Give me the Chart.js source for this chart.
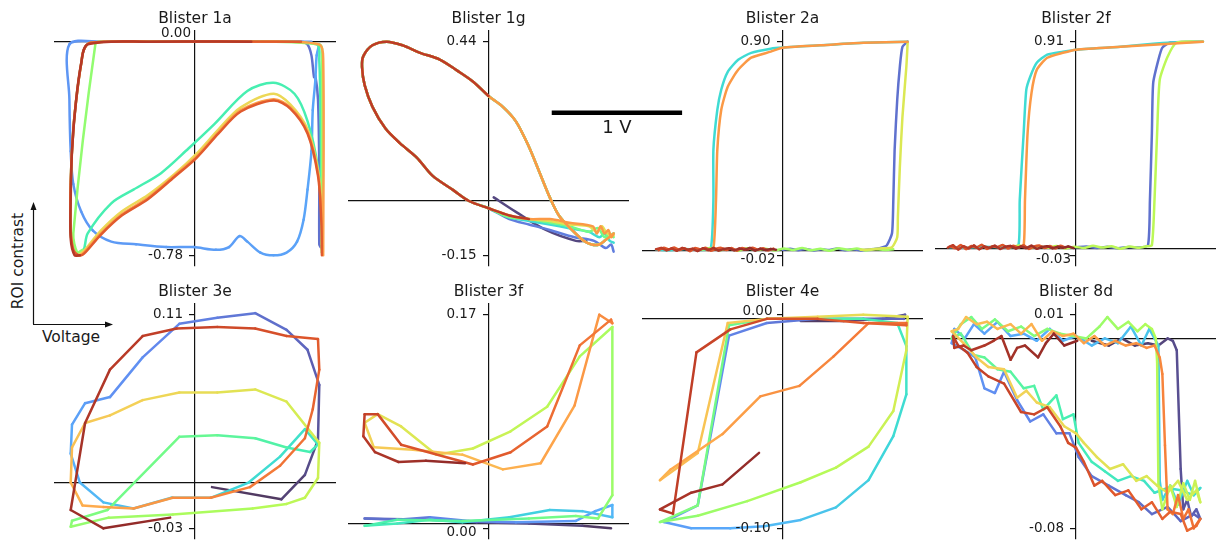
<!DOCTYPE html>
<html>
<head>
<meta charset="utf-8">
<script src="https://cdn.jsdelivr.net/npm/chart.js@4.4.1/dist/chart.umd.min.js"></script>
<style>
  html, body { margin: 0; padding: 0; background: #fff; }
  #stage { position: relative; width: 1216px; height: 545px; overflow: hidden; }
  #stage canvas, #stage svg { position: absolute; left: 0; top: 0; }
</style>
</head>
<body>
<div id="stage">
  <svg width="1216" height="545">
    <line x1="33.5" y1="324" x2="33.5" y2="208" stroke="#111" stroke-width="1.2"/>
    <polygon points="33.5,202 30.5,210 36.5,210" fill="#111"/>
    <line x1="33" y1="324.5" x2="107" y2="324.5" stroke="#111" stroke-width="1.2"/>
    <polygon points="113,324.5 105,321.5 105,327.5" fill="#111"/>
    <text x="18" y="261" transform="rotate(-90 18 261)" text-anchor="middle" dominant-baseline="central"
          font-family="DejaVu Sans" font-size="15.5" fill="#1a1a1a">ROI contrast</text>
    <text x="71" y="337" text-anchor="middle" dominant-baseline="central"
          font-family="DejaVu Sans" font-size="15.5" fill="#1a1a1a">Voltage</text>
  </svg>
</div>
<script>
/* ================= DATA ================= */
const titles = ['Blister 1a', 'Blister 1g', 'Blister 2a', 'Blister 2f',
                'Blister 3e', 'Blister 3f', 'Blister 4e', 'Blister 8d'];

// y tick positions (data min / max) and their printed text
const yTicks = [[-0.78, 0.00], [-0.15, 0.44], [-0.02, 0.90], [-0.03, 0.91],
                [-0.03, 0.11], [-0.004, 0.17], [-0.10, 0.002], [-0.08, 0.01]];
const yTickText = [['-0.78', '0.00'], ['-0.15', '0.44'], ['-0.02', '0.90'], ['-0.03', '0.91'],
                   ['-0.03', '0.11'], ['0.00', '0.17'], ['-0.10', '0.00'], ['-0.08', '0.01']];

const voltLimit = 1.07;                  // V, same sweep window for every blister
const scaleBar = [[0.485, 0.244], [1.485, 0.244]];   // 1 V bar, drawn in 1g coordinates

/* ---- Blister 1a : one trace per cycle ---- */
const loops1a = [
  [[0.12,0],[0.81,0],[0.86,-0.01],[0.89,-0.05],[0.91,-0.13],[0.92,-0.125],[0.94,-0.21],[0.95,-0.47],[0.95,-0.74],[0.96,-0.75]],
  [[0.89,0],[0.05,0],[-0.72,0],[-0.96,-0.01],[-0.96,-0.21],[-0.95,-0.40],[-0.93,-0.52],[-0.87,-0.62],[-0.78,-0.69],[-0.64,-0.73],[-0.45,-0.74],[-0.22,-0.75],[-0.01,-0.75],[0.16,-0.76],[0.26,-0.75],[0.34,-0.71],[0.40,-0.73],[0.50,-0.77],[0.60,-0.78],[0.70,-0.77],[0.78,-0.73],[0.83,-0.65],[0.86,-0.54],[0.89,-0.40],[0.90,-0.25],[0.92,-0.14],[0.93,-0.05],[0.95,-0.01]],
  [[0.97,-0.77],[0.96,-0.29],[0.95,-0.07],[0.93,-0.01],[0.43,0],[-0.34,0],[-0.80,-0.004],[-0.85,-0.03],[-0.87,-0.08],[-0.90,-0.18],[-0.93,-0.32],[-0.95,-0.51],[-0.95,-0.69],[-0.93,-0.76],[-0.89,-0.78],[-0.85,-0.76],[-0.82,-0.70],[-0.64,-0.59],[-0.47,-0.54],[-0.26,-0.48],[-0.05,-0.39],[0.15,-0.30],[0.40,-0.18],[0.60,-0.15],[0.76,-0.19],[0.86,-0.29],[0.94,-0.46],[0.97,-0.63],[0.97,-0.77]],
  [[0.97,-0.76],[0.97,-0.07],[0.95,-0.01],[0.05,0],[-0.72,0],[-0.76,-0.004],[-0.93,-0.70],[-0.90,-0.77],[-0.86,-0.76]],
  [[-0.89,-0.78],[-0.85,-0.765],[-0.72,-0.69],[-0.56,-0.62],[-0.36,-0.56],[-0.16,-0.485],[0.01,-0.41],[0.18,-0.32],[0.35,-0.24],[0.60,-0.19],[0.73,-0.23],[0.86,-0.32],[0.94,-0.47],[0.97,-0.63],[0.97,-0.77]],
  [[0.98,-0.77],[0.98,-0.07],[0.95,-0.01],[0.43,0],[-0.34,0],[-0.80,-0.004],[-0.85,-0.03],[-0.87,-0.08],[-0.90,-0.18],[-0.93,-0.32],[-0.95,-0.51],[-0.95,-0.69],[-0.93,-0.76],[-0.89,-0.78],[-0.85,-0.77],[-0.72,-0.70],[-0.56,-0.63],[-0.36,-0.57],[-0.16,-0.49],[0.01,-0.42],[0.18,-0.33],[0.35,-0.25],[0.60,-0.21],[0.73,-0.24],[0.86,-0.33],[0.94,-0.48],[0.97,-0.64],[0.98,-0.78]],
  [[0.81,0],[-0.34,0],[-0.80,-0.004],[-0.85,-0.03],[-0.87,-0.08],[-0.90,-0.18],[-0.93,-0.32],[-0.95,-0.51],[-0.95,-0.69],[-0.93,-0.76],[-0.89,-0.78],[-0.85,-0.775],[-0.72,-0.705],[-0.56,-0.635],[-0.36,-0.575],[-0.16,-0.495],[0.01,-0.425],[0.18,-0.335],[0.35,-0.255],[0.60,-0.215],[0.73,-0.245],[0.86,-0.335],[0.94,-0.49],[0.965,-0.65],[0.97,-0.78]],
  [[0.43,0],[-0.34,0],[-0.82,-0.01],[-0.87,-0.08],[-0.91,-0.22],[-0.94,-0.40],[-0.95,-0.58],[-0.95,-0.72],[-0.92,-0.78],[-0.88,-0.78]]
];
const tones1a = [[0.10,0.10],[0.16,0.20],[0.36,0.36],[0.46,0.46],[0.62,0.62],[0.73,0.73],[0.85,0.85],[0.94,0.94]];

/* ---- Blister 1g : common loop, cycles differ in the tail ---- */
const loop1g = [[0.96,-0.09],[0.89,-0.11],[0.85,-0.12],[0.79,-0.12],[0.73,-0.11],[0.64,-0.08],[0.54,-0.04],[0.47,0.01],[0.39,0.08],[0.31,0.15],[0.21,0.22],[0.11,0.26],[0,0.29],[-0.12,0.33],[-0.24,0.36],[-0.37,0.39],[-0.53,0.41],[-0.66,0.43],[-0.78,0.44],[-0.89,0.43],[-0.96,0.40],[-0.97,0.37],[-0.95,0.32],[-0.89,0.26],[-0.79,0.20],[-0.68,0.16],[-0.55,0.12],[-0.43,0.07],[-0.27,0.03],[-0.15,0.00],[0,-0.02]];
const start1g = [[0.04,0.01],[0.21,-0.03],[0.44,-0.08],[0.67,-0.11],[0.75,-0.11]];
const tails1g = [
  [[0.16,-0.05],[0.31,-0.065],[0.47,-0.08],[0.66,-0.10],[0.81,-0.11],[0.90,-0.13],[0.94,-0.12],[0.96,-0.14]],
  [[0.16,-0.045],[0.31,-0.055],[0.47,-0.065],[0.62,-0.075],[0.77,-0.085],[0.85,-0.10],[0.89,-0.09],[0.93,-0.11],[0.96,-0.115]],
  [[0.16,-0.045],[0.31,-0.05],[0.47,-0.06],[0.62,-0.07],[0.77,-0.085],[0.84,-0.075],[0.89,-0.10],[0.93,-0.09],[0.96,-0.10]],
  [[0.16,-0.04],[0.31,-0.05],[0.47,-0.055],[0.62,-0.065],[0.77,-0.07],[0.83,-0.085],[0.87,-0.07],[0.91,-0.09],[0.96,-0.095]],
  [[0.16,-0.04],[0.31,-0.05],[0.47,-0.05],[0.62,-0.06],[0.80,-0.07],[0.83,-0.09],[0.86,-0.07],[0.89,-0.09],[0.92,-0.08],[0.94,-0.10],[0.96,-0.09]]
];
const end1g = [[0.16,-0.04],[0.31,-0.05]];
const tones1g = [[0.03,0.03],[0.12,0.12],[0.30,0.30],[0.42,0.42],[0.60,0.60],[0.74,0.74],[0.93,0.93]];

/* ---- Blister 2a ---- */
const loops2a = [
  [[0.00,0.004],[0.06,0.008],[0.12,0.002],[0.18,0.007],[0.24,0.001],[0.30,0.006],[0.36,0.003],[0.42,0.009],[0.48,0.002],[0.54,0.006],[0.60,0.001],[0.66,0.005],[0.72,0.008],[0.77,0.015],[0.80,0.023],[0.84,0.075],[0.85,0.218],[0.86,0.434],[0.88,0.65],[0.90,0.792],[0.92,0.878],[0.96,0.90]],
  [[0.96,0.90],[0.62,0.895],[0.37,0.887],[0.00,0.875],[-0.09,0.87],[-0.24,0.852],[-0.34,0.822],[-0.42,0.77],[-0.47,0.693],[-0.50,0.606],[-0.53,0.434],[-0.53,0.218],[-0.55,0.010],[-0.62,0.003],[-0.75,0.007],[-0.88,0.002],[-0.97,0.005]],
  [[-0.62,0.004],[-0.55,0.012],[-0.48,0.002],[-0.41,0.009],[-0.34,0.000],[-0.27,0.010],[-0.20,0.003],[-0.13,0.008],[-0.06,0.001],[0.01,0.009],[0.08,0.003],[0.15,0.011],[0.22,0.002],[0.29,0.008],[0.36,0.000],[0.43,0.010],[0.50,0.004],[0.57,0.009],[0.64,0.001],[0.71,0.007],[0.78,0.003],[0.85,0.006]],
  [[0.60,0.004],[0.70,0.006],[0.77,0.010],[0.84,0.015],[0.88,0.058],[0.885,0.144],[0.90,0.36],[0.92,0.576],[0.95,0.792],[0.96,0.896]],
  [[0.96,0.90],[0.62,0.895],[0.37,0.887],[0.00,0.874],[-0.09,0.857],[-0.24,0.831],[-0.34,0.779],[-0.42,0.706],[-0.47,0.606],[-0.50,0.434],[-0.51,0.218],[-0.53,0.010],[-0.58,0.003]],
  [[-0.95,0.002],[-0.91,0.013],[-0.87,0.005],[-0.83,0.014],[-0.79,0.003],[-0.75,0.010],[-0.71,-0.002],[-0.67,0.012],[-0.63,0.005],[-0.59,0.013],[-0.55,0.000],[-0.51,0.008],[-0.47,0.012],[-0.43,0.003],[-0.39,0.011],[-0.35,0.000],[-0.31,0.012],[-0.27,0.006],[-0.23,0.013],[-0.19,0.004],[-0.15,0.010],[-0.11,0.001],[-0.07,0.009]],
  [[-0.97,0.006],[-0.93,0.011],[-0.89,0.002],[-0.85,0.009],[-0.81,0.000],[-0.77,0.012],[-0.73,0.004],[-0.69,0.008],[-0.65,-0.001],[-0.61,0.010],[-0.57,0.003],[-0.53,0.011],[-0.49,0.001],[-0.45,0.007],[-0.41,0.010],[-0.37,0.002],[-0.33,0.009],[-0.29,0.004],[-0.25,0.011],[-0.21,0.001],[-0.17,0.008],[-0.13,0.003],[-0.09,0.007],[-0.05,0.004]]
];
const tones2a = [[0.10,0.10],[0.30,0.30],[0.48,0.48],[0.58,0.58],[0.74,0.74],[0.86,0.86],[0.92,1.0]];

/* ---- Blister 2f ---- */
const loops2f = [
  [[0.00,0.005],[0.08,0.009],[0.16,0.002],[0.24,0.008],[0.32,0.001],[0.40,0.007],[0.48,0.004],[0.55,0.014],[0.565,0.213],[0.58,0.508],[0.59,0.729],[0.63,0.831],[0.66,0.884],[0.72,0.906],[0.97,0.91]],
  [[0.97,0.91],[0.74,0.906],[0.59,0.901],[0.34,0.888],[0.00,0.875],[-0.10,0.866],[-0.22,0.853],[-0.30,0.817],[-0.35,0.756],[-0.38,0.698],[-0.40,0.508],[-0.43,0.213],[-0.44,0.014],[-0.52,0.004],[-0.70,0.008],[-0.85,0.003],[-0.97,0.006]],
  [[-0.50,0.006],[-0.43,0.013],[-0.36,0.001],[-0.29,0.010],[-0.22,0.003],[-0.15,0.011],[-0.08,0.000],[-0.01,0.008],[0.06,0.002],[0.13,0.012],[0.20,0.004],[0.27,0.010],[0.34,-0.001],[0.41,0.009],[0.48,0.003],[0.54,0.010],[0.58,0.014],[0.60,0.213],[0.62,0.508],[0.64,0.742],[0.70,0.844],[0.77,0.906],[0.97,0.91]],
  [[0.97,0.91],[0.34,0.888],[0.00,0.875],[-0.10,0.861],[-0.22,0.839],[-0.30,0.786],[-0.34,0.685],[-0.37,0.508],[-0.39,0.213],[-0.40,0.014],[-0.45,0.004]],
  [[-0.96,0.010],[-0.92,0.001],[-0.88,0.015],[-0.84,-0.003],[-0.80,0.011],[-0.76,0.004],[-0.72,0.016],[-0.68,-0.002],[-0.64,0.010],[-0.60,0.006],[-0.56,0.015],[-0.52,0.000],[-0.48,0.012],[-0.44,0.004],[-0.40,0.014],[-0.36,-0.002],[-0.32,0.009],[-0.28,0.013],[-0.24,0.002],[-0.20,0.011],[-0.16,0.000],[-0.12,0.012],[-0.08,0.004]],
  [[-0.98,0.004],[-0.94,0.014],[-0.90,-0.004],[-0.86,0.010],[-0.82,0.001],[-0.78,0.013],[-0.74,-0.003],[-0.70,0.009],[-0.66,0.003],[-0.62,0.012],[-0.58,-0.002],[-0.54,0.008],[-0.50,0.011],[-0.46,0.000],[-0.42,0.009],[-0.38,0.002],[-0.34,0.012],[-0.30,-0.001],[-0.26,0.007],[-0.22,0.010],[-0.18,0.001],[-0.14,0.008],[-0.10,0.003],[-0.06,0.009],[-0.02,0.002]]
];
const tones2f = [[0.10,0.10],[0.30,0.30],[0.52,0.52],[0.74,0.74],[0.86,0.86],[0.92,1.0]];

/* ---- Blister 3e : one continuous recording ---- */
const loops3e = [[
  [0.13,-0.003],[0.66,-0.011],[0.84,0.005],[0.94,0.028],[0.95,0.064],[0.86,0.087],[0.70,0.100],[0.46,0.111],[0.17,0.108],[-0.12,0.104],
  [-0.40,0.082],[-0.65,0.056],[-0.84,0.052],[-0.94,0.038],[-0.95,0.019],[-0.88,0.000],[-0.70,-0.013],[-0.47,-0.017],[-0.18,-0.010],[0.12,-0.010],
  [0.41,0.000],[0.65,0.017],[0.84,0.035],[0.94,0.025],[0.88,0.020],[0.70,0.023],[0.46,0.029],[0.17,0.031],[-0.12,0.030],[-0.67,-0.018],
  [-0.94,-0.025],[-0.95,-0.029],[-0.66,-0.023],[-0.17,-0.021],[0.44,-0.017],[0.70,-0.014],[0.84,-0.010],[0.94,0.003],[0.95,0.026],[0.70,0.053],
  [0.46,0.061],[0.17,0.059],[-0.12,0.059],[-0.40,0.054],[-0.65,0.044],[-0.84,0.039],[-0.94,0.023],[-0.95,0.000],[-0.86,-0.015],[-0.70,-0.016],
  [-0.47,-0.017],[-0.17,-0.010],[0.12,-0.010],[0.42,-0.003],[0.65,0.011],[0.84,0.029],[0.90,0.048],[0.95,0.074],[0.94,0.094],[0.70,0.096],
  [0.46,0.101],[0.17,0.102],[-0.14,0.101],[-0.40,0.096],[-0.65,0.074],[-0.84,0.039],[-0.95,-0.018],[-0.70,-0.030],[-0.19,-0.023]
]];

/* ---- Blister 3f ---- */
const loops3f = [[
  [0.94,-0.004],[0.72,-0.002],[0.31,0.000],[-0.09,0.001],[-0.45,0.003],[-0.95,0.004],[-0.70,0.003],[-0.45,0.005],[-0.15,0.002],[0.21,0.001],
  [0.67,0.002],[0.82,0.010],[0.95,0.015],[0.95,0.005],[0.72,0.010],[0.47,0.011],[0.16,0.005],[-0.20,0.001],[-0.45,0.003],[-0.70,0.000],
  [-0.95,-0.002],[-0.70,0.003],[-0.20,0.002],[0.31,0.004],[0.67,0.006],[0.84,0.004],[0.95,0.023],[0.95,0.160],[0.70,0.136],[0.45,0.095],
  [0.17,0.075],[-0.12,0.061],[-0.40,0.056],[-0.67,0.079],[-0.85,0.089],[-0.95,0.082],[-0.88,0.062],[-0.58,0.060],[-0.20,0.056],[0.11,0.044],
  [0.40,0.049],[0.66,0.096],[0.85,0.170],[0.95,0.163],[0.94,0.166],[0.70,0.145],[0.45,0.079],[0.17,0.058],[-0.12,0.048],[-0.67,0.064],
  [-0.85,0.089],[-0.95,0.089],[-0.96,0.071],[-0.87,0.058],[-0.69,0.050],[-0.48,0.051],[-0.18,0.049]
]];

/* ---- Blister 4e ---- */
const loops4e = [[
  [0.14,-0.001],[0.47,-0.001],[0.77,0.000],[0.94,0.002],[0.93,0.000],[0.62,0.000],[0.27,0.000],[-0.12,-0.002],[-0.41,-0.008],[-0.65,-0.089],
  [-0.91,-0.097],[-0.70,-0.100],[-0.40,-0.100],[-0.14,-0.099],[0.14,-0.096],[0.41,-0.090],[0.66,-0.077],[0.85,-0.056],[0.95,-0.036],[0.95,-0.013],
  [0.88,-0.002],[0.62,0.000],[0.27,0.000],[-0.12,0.000],[-0.41,-0.003],[-0.65,-0.089],[-0.94,-0.097],[-0.65,-0.094],[-0.27,-0.087],[0.14,-0.078],
  [0.41,-0.071],[0.66,-0.061],[0.85,-0.044],[0.95,-0.015],[0.96,0.001],[0.62,0.002],[0.27,0.001],[-0.12,0.000],[-0.42,-0.002],[-0.65,-0.064],
  [-0.94,-0.077],[-0.86,-0.072],[-0.46,-0.055],[-0.17,-0.037],[0.13,-0.032],[0.39,-0.018],[0.66,-0.002],[0.95,-0.002],[0.95,-0.003],[0.62,-0.002],
  [0.27,0.000],[-0.12,0.000],[-0.40,-0.005],[-0.66,-0.016],[-0.84,-0.093],[-0.94,-0.091],[-0.70,-0.083],[-0.46,-0.079],[-0.18,-0.064]
]];

/* ---- Blister 8d ---- */
const loops8d = [[
  [0.12,-0.001],[0.25,-0.003],[0.35,0.000],[0.45,-0.003],[0.55,-0.002],[0.63,-0.003],[0.70,0.000],[0.74,-0.001],[0.77,-0.005],[0.80,-0.055],
  [0.82,-0.072],[0.85,-0.068],[0.88,-0.075],[0.92,-0.072],[0.95,-0.076],
  [0.90,-0.074],[0.80,-0.077],[0.70,-0.071],[0.58,-0.074],[0.48,-0.069],[0.38,-0.066],[0.25,-0.062],[0.12,-0.058],[0.02,-0.050],[-0.05,-0.040],
  [-0.15,-0.040],[-0.25,-0.032],[-0.35,-0.035],[-0.45,-0.026],[-0.55,-0.014],[-0.62,-0.023],[-0.70,-0.021],[-0.77,-0.008],[-0.85,-0.005],[-0.95,-0.002],
  [-0.93,0.004],[-0.85,0.000],[-0.78,0.006],[-0.70,0.002],[-0.60,0.007],[-0.50,0.001],[-0.40,0.002],[-0.30,-0.001],[-0.20,0.004],[-0.10,-0.001],
  [0.00,0.001],[0.12,-0.003],[0.22,0.000],[0.32,-0.002],[0.42,0.005],[0.50,-0.003],[0.56,0.004],[0.60,0.000],[0.63,-0.003],
  [0.64,-0.060],[0.66,-0.068],[0.72,-0.062],[0.78,-0.070],[0.85,-0.060],[0.90,-0.066],[0.95,-0.063],
  [0.90,-0.066],[0.80,-0.064],[0.70,-0.063],[0.60,-0.065],[0.52,-0.060],[0.42,-0.058],[0.32,-0.060],[0.22,-0.056],[0.12,-0.052],[0.02,-0.044],
  [-0.02,-0.032],[-0.10,-0.034],[-0.15,-0.024],[-0.25,-0.030],[-0.32,-0.020],[-0.40,-0.021],[-0.50,-0.014],[-0.60,-0.013],[-0.70,-0.008],[-0.78,-0.007],
  [-0.88,0.002],[-0.95,0.000],
  [-0.88,0.006],[-0.80,0.009],[-0.72,0.004],[-0.62,0.008],[-0.52,0.003],[-0.42,0.005],[-0.32,0.001],[-0.22,0.004],[-0.12,0.002],[-0.02,0.001],
  [0.08,0.000],[0.18,0.005],[0.24,0.009],[0.32,0.004],[0.40,0.007],[0.47,0.003],[0.53,0.006],[0.58,0.004],[0.61,0.000],[0.62,-0.010],
  [0.63,-0.062],[0.66,-0.072],[0.72,-0.062],[0.77,-0.071],[0.82,-0.061],[0.87,-0.068],[0.91,-0.060],[0.95,-0.069],
  [0.92,-0.064],[0.85,-0.068],[0.78,-0.060],[0.70,-0.065],[0.62,-0.062],[0.54,-0.058],[0.46,-0.060],[0.36,-0.053],[0.26,-0.055],[0.16,-0.050],
  [0.06,-0.044],[0.00,-0.040],[-0.09,-0.037],[-0.20,-0.029],[-0.30,-0.027],[-0.38,-0.022],[-0.45,-0.025],[-0.55,-0.013],[-0.67,-0.012],[-0.76,-0.008],
  [-0.86,-0.002],[-0.95,0.003],
  [-0.90,0.004],[-0.84,0.009],[-0.76,0.006],[-0.68,0.007],[-0.60,0.004],[-0.50,0.006],[-0.42,0.002],[-0.34,0.006],[-0.26,-0.001],[-0.18,0.003],
  [-0.10,0.001],[-0.02,0.002],[0.06,-0.002],[0.14,0.001],[0.22,-0.003],[0.30,-0.001],[0.38,-0.003],[0.46,-0.002],[0.54,-0.004],[0.60,-0.003],
  [0.64,-0.008],[0.66,-0.015],[0.68,-0.045],[0.70,-0.072],[0.74,-0.074],[0.78,-0.066],[0.82,-0.076],[0.86,-0.072],[0.90,-0.080],[0.95,-0.076],
  [0.92,-0.079],[0.85,-0.081],[0.80,-0.074],[0.72,-0.073],[0.66,-0.076],[0.58,-0.069],[0.50,-0.072],[0.40,-0.064],[0.30,-0.066],[0.20,-0.060],
  [0.14,-0.062],[0.06,-0.052],[0.00,-0.046],[-0.06,-0.044],[-0.12,-0.037],[-0.22,-0.029],[-0.32,-0.032],[-0.42,-0.031],[-0.55,-0.019],[-0.67,-0.016],
  [-0.76,-0.012],[-0.83,-0.006],[-0.90,-0.003],
  [-0.94,0.001],[-0.93,-0.004],[-0.86,-0.003],[-0.80,-0.005],[-0.70,-0.003],[-0.63,-0.001],[-0.57,0.001],[-0.50,-0.009],[-0.45,-0.004],[-0.39,-0.003],
  [-0.29,-0.008],[-0.23,-0.002],[-0.17,0.002],[-0.09,-0.003],[0.01,-0.001]
]];
const fullSweep = [[0, 1]];

/* ================= LAYOUT / STYLE ================= */
// plot boxes: left, top, right, bottom (px)
const frames = [[55,31,335,266],[349,31,628,266],[643,31,922,266],[936,31,1216,266],
                [55,304,335,539],[349,304,628,539],[643,304,922,539],[936,304,1216,539]];
// nudges for tick text that would sit on the zero line  [[dx,dy] low, [dx,dy] high]
const labelNudge = [[[0,0],[8,-8]],[[0,0],[0,0]],[[5,4],[0,0]],[[7,4],[0,0]],
                    [[0,0],[0,0]],[[0,4],[0,0]],[[0,0],[2,-3]],[[0,0],[0,0]]];
// densely sampled panels are smoothed, sparse ones keep their corners
const smoothing = [0.3, 0.3, 0.2, 0.2, 0, 0, 0, 0];

const turboStops = ['#30123b','#4145ab','#4675ed','#39a2fc','#1bcfd4','#24eca6','#61fc6c','#a4fc3b',
                    '#d1e834','#f3c63a','#fe9b2d','#f36315','#d93806','#b11901','#7a0403'];
const stopRgb = turboStops.map(h => [1, 3, 5].map(i => parseInt(h.slice(i, i + 2), 16)));

function turbo(t) {
    t = Math.min(1, Math.max(0, t));
    const f = t * (stopRgb.length - 1);
    const i = Math.min(Math.floor(f), stopRgb.length - 2);
    const u = f - i;
    const c = stopRgb[i].map((v, k) => v + (stopRgb[i + 1][k] - v) * u);
    // lines are drawn at 85% over white
    return 'rgb(' + c.map(v => Math.round(v * 0.85 + 255 * 0.15)).join(',') + ')';
}

const FONT = '"DejaVu Sans", "Liberation Sans", sans-serif';
const AXIS = '#111';
const stage = document.getElementById('stage');

/* ================= DRAW ONE PANEL ================= */
function drawPanel(idx, loops, tones, extra) {

    const [L, T, R, B] = frames[idx];
    const [lo, hi] = yTicks[idx];
    const pad = (hi - lo) * 0.05;

    const canvas = document.createElement('canvas');
    canvas.width = 1216;
    canvas.height = 545;
    stage.appendChild(canvas);

    // later cycles sit on top: Chart.js paints the lowest `order` last
    const datasets = loops.map((pts, k) => {
        const [t0, t1] = tones[k];
        const n = pts.length;
        return {
            data: pts,
            order: loops.length - k,
            showLine: true,
            tension: smoothing[idx],
            pointRadius: 0,
            borderWidth: 2.5,
            borderCapStyle: 'round',
            borderJoinStyle: 'round',
            borderColor: turbo(t0),
            segment: {
                borderColor: c => turbo(t0 + (t1 - t0) * (c.p0DataIndex + 0.5) / Math.max(1, n - 1))
            }
        };
    });

    if (extra) {
        datasets.push({
            data: extra,
            order: 0,
            showLine: true,
            pointRadius: 0,
            borderWidth: 4.5,
            borderColor: '#000',
            borderCapStyle: 'butt',
            clip: false
        });
    }

    const panelText = {
        id: 'panelText' + idx,
        afterDraw(chart) {
            const { ctx, chartArea, scales } = chart;
            ctx.save();
            ctx.fillStyle = '#1a1a1a';
            ctx.textBaseline = 'middle';

            ctx.font = '15.5px ' + FONT;
            ctx.textAlign = 'center';
            ctx.fillText(titles[idx], (chartArea.left + chartArea.right) / 2, chartArea.top - 12);

            ctx.font = '13.5px ' + FONT;
            ctx.textAlign = 'right';
            const ax = scales.x.getPixelForValue(0);
            yTicks[idx].forEach((v, k) => {
                const [dx, dy] = labelNudge[idx][k];
                ctx.fillText(yTickText[idx][k], ax - 12 + dx, scales.y.getPixelForValue(v) + dy);
            });

            if (extra) {
                const x0 = scales.x.getPixelForValue(extra[0][0]);
                const x1 = scales.x.getPixelForValue(extra[1][0]);
                const yb = scales.y.getPixelForValue(extra[0][1]);
                ctx.font = '18px ' + FONT;
                ctx.textAlign = 'center';
                ctx.fillText('1 V', (x0 + x1) / 2, yb + 16);
            }
            ctx.restore();
        }
    };

    new Chart(canvas, {
        type: 'scatter',
        data: { datasets },
        options: {
            responsive: false,
            animation: false,
            events: [],
            layout: { padding: { left: L, top: T, right: 1216 - R, bottom: 545 - B } },
            plugins: { legend: { display: false }, tooltip: { enabled: false } },
            scales: {
                x: {
                    type: 'linear',
                    min: -voltLimit,
                    max: voltLimit,
                    position: { y: 0 },
                    grid: { display: false },
                    ticks: { display: false },
                    border: { display: true, color: AXIS, width: 1.2 }
                },
                y: {
                    type: 'linear',
                    min: lo - pad,
                    max: hi + pad,
                    position: { x: 0 },
                    afterBuildTicks: s => { s.ticks = [{ value: lo }, { value: hi }]; },
                    grid: { display: true, drawOnChartArea: false, drawTicks: true, tickLength: 5, color: AXIS, lineWidth: 1.2 },
                    ticks: { display: false },
                    border: { display: true, color: AXIS, width: 1.2 }
                }
            }
        },
        plugins: [panelText]
    });
}

/* ================= BUILD ================= */
const traces1g = [start1g].concat(tails1g.map(t => loop1g.concat(t)), [loop1g.slice(12).concat(end1g)]);

drawPanel(0, loops1a, tones1a);
drawPanel(1, traces1g, tones1g, scaleBar);
drawPanel(2, loops2a, tones2a);
drawPanel(3, loops2f, tones2f);
drawPanel(4, loops3e, fullSweep);
drawPanel(5, loops3f, fullSweep);
drawPanel(6, loops4e, fullSweep);
drawPanel(7, loops8d, fullSweep);
</script>
</body>
</html>
